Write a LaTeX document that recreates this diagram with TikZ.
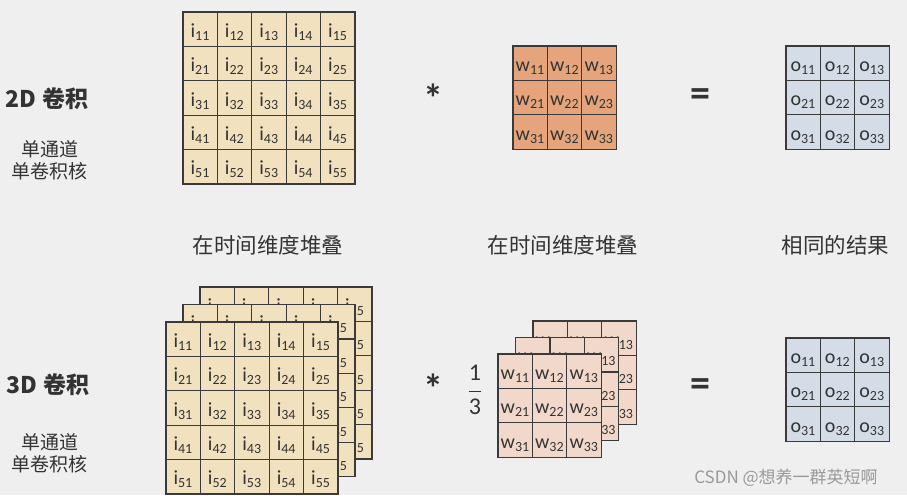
\documentclass[tikz,border=0pt]{standalone}
\usepackage{amsmath}
\usepackage{fontspec}
\setmainfont{Carlito}
\newfontfamily\cjk{Noto Sans CJK SC}
\usepackage{tikz}
\usepackage{xcolor}
\definecolor{bg_gray}{HTML}{EFEFEF}
\definecolor{grid_line}{HTML}{3A3A3A}
\definecolor{in_tan}{HTML}{F1E1BE}
\definecolor{w_orange}{HTML}{E5A47C}
\definecolor{w_light}{HTML}{F2D8CA}
\definecolor{out_blue}{HTML}{D4DCE7}
\definecolor{label_gray}{HTML}{333333}

\tikzset{
	cell/.style={draw=grid_line, line width=1.2pt, minimum width=34.4pt, minimum height=34.4pt,
		inner sep=0pt, text height=18pt, text depth=2pt, text=label_gray,
		font=\fontsize{20}{22}\selectfont},
	icell/.style={cell, fill=in_tan},
	wcell/.style={cell, fill=w_orange},
	wlight/.style={cell, fill=w_light},
	ocell/.style={cell, fill=out_blue},
	title/.style={text=label_gray, font=\cjk\bfseries\fontsize{23}{26}\selectfont},
	note/.style={text=label_gray, align=center, font=\cjk\fontsize{19}{22}\selectfont},
	stacklabel/.style={text=label_gray, font=\cjk\fontsize{21.5}{24}\selectfont},
	op/.style={text=label_gray, font=\bfseries\fontsize{40}{42}\selectfont}
}

\begin{document}
\begin{tikzpicture}[x=1pt, y=-1pt]
	\fill[bg_gray] (0, 0) rectangle (907, 495);
	\useasboundingbox (0, 0) rectangle (907, 495);
	\def\cs{34.4}
	% 2D: input, kernel, output
	\foreach \r in {1,...,5}
		\foreach \c in {1,...,5}
			\node[icell] (i\r\c) at ({183+(\c-0.5)*\cs}, {12+(\r-0.5)*\cs}) {i\textsubscript{\r\c}};
	\foreach \r in {1,...,3}
		\foreach \c in {1,...,3}
			\node[wcell] (w\r\c) at ({513+(\c-0.5)*\cs}, {46+(\r-0.5)*\cs}) {w\textsubscript{\r\c}};
	\foreach \r in {1,...,3}
		\foreach \c in {1,...,3}
			\node[ocell] (o\r\c) at ({786+(\c-0.5)*\cs}, {46+(\r-0.5)*\cs}) {o\textsubscript{\r\c}};
	% 3D: stacked inputs (back to front)
	\foreach \layer/\x/\y in {c/200/287, b/183/304.5, a/166/322}
		\foreach \r in {1,...,5}
			\foreach \c in {1,...,5}
				\node[icell] (i\layer\r\c) at ({\x+(\c-0.5)*\cs}, {\y+(\r-0.5)*\cs}) {i\textsubscript{\r\c}};
	% stacked kernels
	\foreach \layer/\x/\y in {c/533/321, b/515.5/337.5, a/498/354}
		\foreach \r in {1,...,3}
			\foreach \c in {1,...,3}
				\node[wlight] (w\layer\r\c) at ({\x+(\c-0.5)*\cs}, {\y+(\r-0.5)*\cs}) {w\textsubscript{\r\c}};
	\foreach \r in {1,...,3}
		\foreach \c in {1,...,3}
			\node[ocell] (p\r\c) at ({786+(\c-0.5)*\cs}, {338+(\r-0.5)*\cs}) {o\textsubscript{\r\c}};
	% labels
	\node[title] (t2d) at (47, 99) {2D 卷积};
	\node[note] (n2d) at (50, 160) {单通道\\单卷积核};
	\node[title] (t3d) at (48, 385) {3D 卷积};
	\node[note] (n3d) at (50, 453) {单通道\\单卷积核};
	\node[stacklabel] (s1) at (268, 245) {在时间维度堆叠};
	\node[stacklabel] (s2) at (563, 245) {在时间维度堆叠};
	\node[stacklabel] (s3) at (835.5, 245) {相同的结果};
	\node[op] (star1) at (433, 98) {*};
	\node[op] (eq1) at (700, 98) {=};
	\node[op] (star2) at (433, 388) {*};
	\node[op] (eq2) at (700, 388) {=};
	\node[text=label_gray, font=\fontsize{24}{27}\selectfont] (third) at (475, 390) {$\dfrac{\text{1}}{\text{3}}$};
	\node[text=black!40, font=\cjk\fontsize{17}{20}\selectfont] (mark) at (786, 478) {CSDN @想养一群英短啊};
\end{tikzpicture}
\end{document}
